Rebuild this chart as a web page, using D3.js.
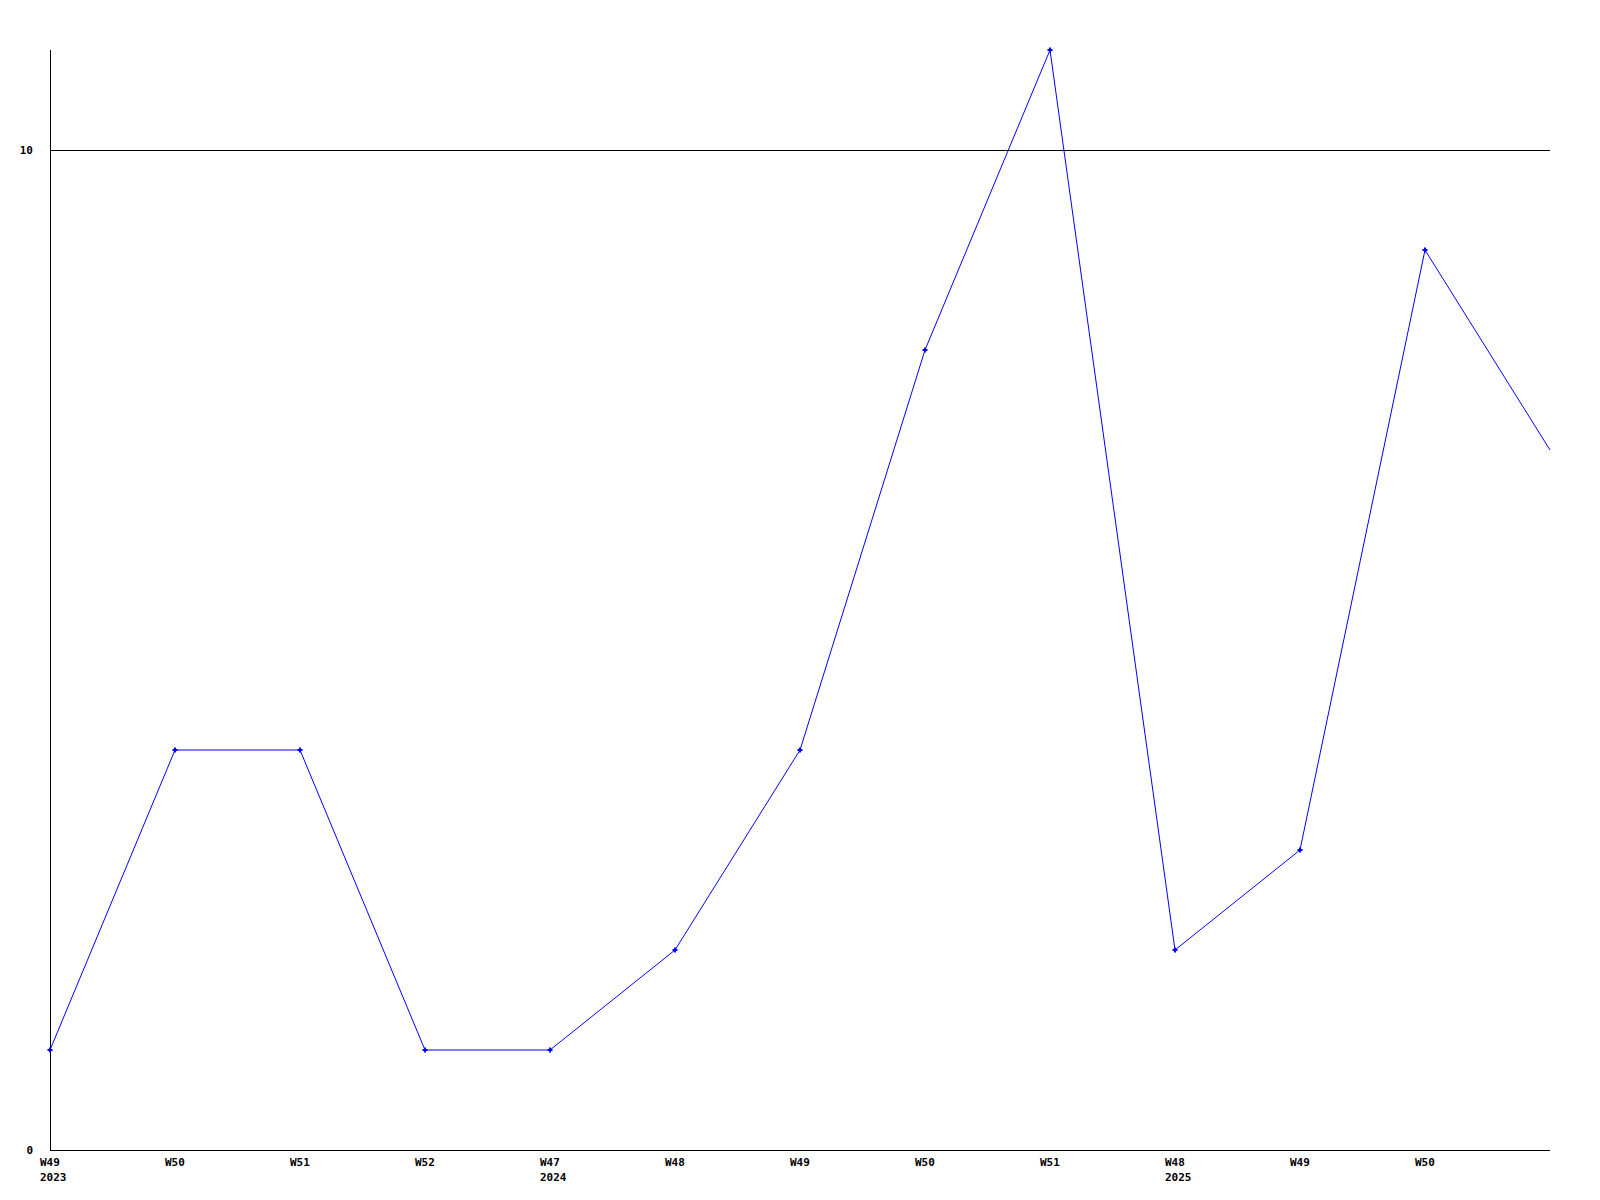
<!DOCTYPE html>
<html>
<head>
<meta charset="utf-8">
<script src="https://d3js.org/d3.v7.min.js"></script>
<style>
  body { margin: 0; background: #fff; }
  text { font-family: "DejaVu Sans Mono", "Liberation Mono", monospace; font-weight: bold; font-size: 11px; }
</style>
</head>
<body>
<div id="chart"></div>
<script>
// weekly values, last point runs off the right edge
const weeks = ["W49", "W50", "W51", "W52", "W47", "W48", "W49", "W50", "W51", "W48", "W49", "W50", ""]
const years = ["2023", "", "", "", "2024", "", "", "", "", "2025", "", "", ""]
const values = [1, 4, 4, 1, 1, 2, 4, 8, 11, 2, 3, 9, 7]
const yTicks = [0, 10]

let padding = { top: 50, right: 50, bottom: 50, left: 50 }
let size = { width: 1600 - padding.left - padding.right, height: 1200 - padding.top - padding.bottom }

let svg = d3.select("#chart").append("svg")
  .attr("width", 1600).attr("height", 1200)
  .append("g")
  .attr("transform", "translate(" + padding.left + "," + padding.top + ")")

const xScale = d3.scaleLinear().domain([0, values.length - 1]).range([0, size.width])
const yScale = d3.scaleLinear().domain([0, 11]).range([size.height, 0])

//gridline at 10
svg.selectAll(".grid").data(yTicks.filter(d => d > 0)).enter()
  .append("line")
  .attr("x1", 0).attr("x2", size.width)
  .attr("y1", d => yScale(d) + 0.5).attr("y2", d => yScale(d) + 0.5)
  .attr("stroke", "#000").attr("stroke-width", 1)

//axes lines
svg.append("line").attr("x1", 0.5).attr("x2", 0.5).attr("y1", 0).attr("y2", size.height)
  .attr("stroke", "#000")
svg.append("line").attr("x1", 0).attr("x2", size.width).attr("y1", size.height + 0.5).attr("y2", size.height + 0.5)
  .attr("stroke", "#000")

//y labels
svg.selectAll(".ylab").data(yTicks).enter()
  .append("text")
  .attr("x", -17).attr("y", d => yScale(d))
  .attr("dy", "0.35em")
  .attr("text-anchor", "end")
  .text(d => d)

//x labels, left aligned a bit before the tick
let xl = svg.selectAll(".xlab").data(weeks).enter().append("g")
  .attr("transform", (d, i) => "translate(" + (xScale(i) - 10) + "," + size.height + ")")
xl.append("text").attr("y", 16).text(d => d)
xl.append("text").attr("y", 31).text((d, i) => years[i])

//data line
const line = d3.line().x((d, i) => xScale(i)).y(d => yScale(d))
svg.append("path").datum(values)
  .attr("d", line)
  .attr("fill", "none")
  .attr("stroke", "#0000ff")
  .attr("stroke-width", 1)

//small cross markers, none on the last point
svg.selectAll(".mark").data(values.slice(0, -1)).enter()
  .append("path")
  .attr("transform", (d, i) => "translate(" + xScale(i) + "," + yScale(d) + ")")
  .attr("d", "M-2.5,0H2.5M0,-2.5V2.5")
  .attr("stroke", "#0000ff")
  .attr("stroke-width", 2)
</script>
</body>
</html>
